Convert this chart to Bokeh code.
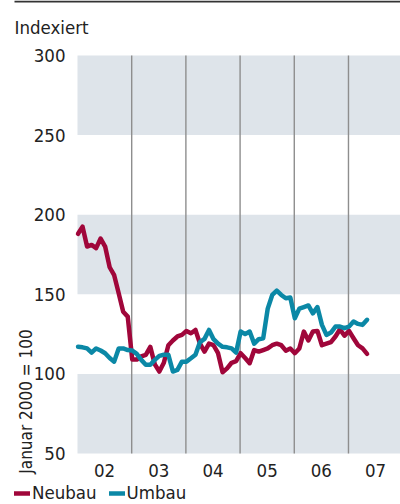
from bokeh.plotting import figure
from bokeh.models import Range1d, FixedTicker, Label, Legend, LegendItem, LinearAxis
from bokeh.embed import file_html
from bokeh.resources import INLINE

# ---- data (monthly index, Jan 2002 - May 2007, January 2000 = 100) ----
start_year = 2002
neubau = [188, 192.5, 180, 181, 179, 185, 180, 167, 162, 150.7,
          139, 136, 109, 109, 111, 112, 117, 106, 101.5, 107,
          118, 121, 123.5, 124.5, 127, 125.5, 127.6, 119, 114, 119,
          118, 113, 101, 103.5, 107, 108, 113, 110, 106.7, 115,
          114, 115, 116, 118, 119, 118, 114.6, 116, 113, 116,
          126.6, 121, 126.6, 127, 118, 119, 120, 123.5, 128, 124,
          127, 122.4, 118, 116, 112.6]
umbau = [117, 116.7, 116, 113.4, 116, 114.7, 113, 110, 107.7, 116,
         116, 115, 114.7, 112.6, 108.8, 105.7, 105.7, 108.8, 111.3, 112,
         112, 101.5, 102.5, 107.7, 107.7, 109.8, 112, 120, 122, 127.6,
         121.8, 119, 117, 116.7, 116, 113.4, 126.6, 125, 126.6, 119,
         121.8, 122.4, 141, 149.6, 152.3, 149.6, 147.5, 148, 135, 141,
         142, 143, 138, 142, 130.8, 124.5, 126, 129.7, 129.7, 128.7,
         129.7, 132.9, 131.4, 130.8, 134]
year_labels = ["02", "03", "04", "05", "06", "07"]
y_ticks = [50, 100, 150, 200, 250, 300]
band_bottoms = [50, 150, 250]
band_tops = [100, 200, 300]
series_names = ["Neubau", "Umbau"]
title_text = "Indexiert"
axis_title = "Januar 2000 = 100"

FONT = "'DejaVu Sans Condensed', sans-serif"
RED = "#a0063a"
TEAL = "#0b88a6"
BAND = "#dee4ea"
TXT = "#222222"

# ---- layout geometry (pixels) ----
W, H = 400, 504
PL, PR, PT, PB = 77, 400, 55, 453          # plot area in pixels
x_lo, x_hi = 2002.0, 2007.96               # visible years in plot area
y_lo, y_hi = 50, 300
ppx = (PR - PL) / (x_hi - x_lo)
ppy = (PB - PT) / (y_hi - y_lo)

def xd(px):
    return x_lo + (px - PL) / ppx

def yd(py):
    return y_hi + (PT - py) / ppy

p = figure(width=W, height=H, output_backend="svg", toolbar_location=None,
           x_range=Range1d(xd(0), xd(W)), y_range=Range1d(yd(H), yd(0)),
           min_border=0, x_axis_type=None, y_axis_type=None)
p.outline_line_color = None
p.grid.visible = False
p.background_fill_color = "white"
p.border_fill_color = "white"

# top rule
p.segment(x0=xd(14), x1=xd(W), y0=yd(1), y1=yd(1), line_color="#333333", line_width=2)

# bands
p.quad(left=x_lo, right=x_hi, bottom=band_bottoms, top=band_tops,
       fill_color=BAND, line_color=None)
# year separators
years = list(range(start_year, start_year + len(year_labels)))
sep = years[1:]
p.segment(x0=sep, x1=sep, y0=y_lo, y1=y_hi, line_color="#8e8e8e", line_width=1.4)

xs = [start_year + i / 12 + 0.01 for i in range(len(neubau))]
r1 = p.line(xs, neubau, line_color=RED, line_width=4.5, line_join="round", line_cap="round")
r2 = p.line(xs, umbau, line_color=TEAL, line_width=4.5, line_join="round", line_cap="round")

# axes fixed at the plot-area edges
yax = LinearAxis(fixed_location=x_lo, ticker=FixedTicker(ticks=y_ticks),
                 major_tick_line_color=None, minor_tick_line_color=None,
                 axis_line_color=None, major_label_standoff=6,
                 major_label_text_font=FONT, major_label_text_font_size="18.5px",
                 major_label_text_color=TXT)
p.add_layout(yax, "left")

mids = [y + 0.5 for y in years]
xax = LinearAxis(fixed_location=y_lo, ticker=FixedTicker(ticks=mids),
                 major_label_overrides={m: lab for m, lab in zip(mids, year_labels)},
                 major_tick_line_color=None, minor_tick_line_color=None,
                 axis_line_color=None, major_label_standoff=4,
                 major_label_text_font=FONT, major_label_text_font_size="18.5px",
                 major_label_text_color=TXT)
p.add_layout(xax, "below")

p.add_layout(Label(x=xd(14), y=yd(27), text=title_text, text_font=FONT,
                   text_font_size="18.5px", text_color=TXT,
                   text_align="left", text_baseline="middle"))
p.add_layout(Label(x=xd(25.5), y=yd(401), text=axis_title, text_font=FONT,
                   text_font_size="17px", text_color=TXT, angle=1.5707963,
                   text_align="center", text_baseline="middle"))

legend = Legend(items=[LegendItem(label=series_names[0], renderers=[r1]),
                       LegendItem(label=series_names[1], renderers=[r2])],
                orientation="horizontal", location=(14, 1),
                glyph_width=16, glyph_height=16, label_standoff=2, spacing=12,
                padding=0, margin=0, border_line_alpha=0, background_fill_alpha=0,
                label_text_font=FONT, label_text_font_size="18.5px",
                label_text_color=TXT, label_height=16)
p.add_layout(legend, "center")

open("out.html", "w").write(file_html(p, INLINE))
